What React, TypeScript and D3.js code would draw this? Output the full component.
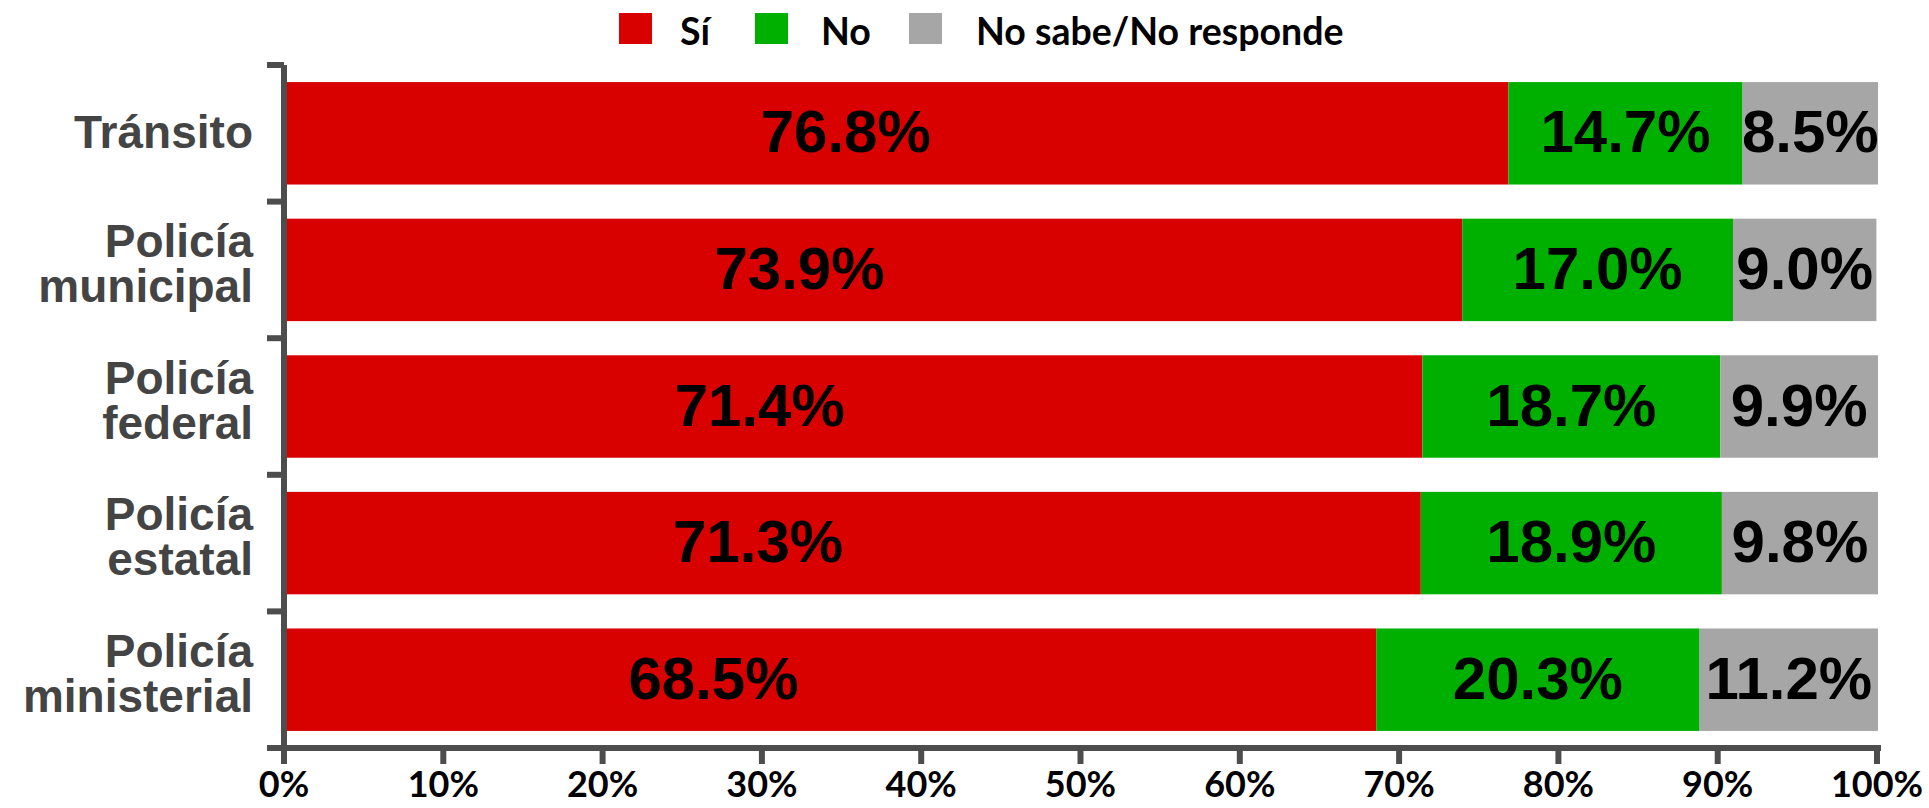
import React from "react";
import * as d3 from "d3";

const categories = ["Tránsito", "Policía municipal", "Policía federal", "Policía estatal", "Policía ministerial"];
const categoryLines = [["Tránsito"], ["Policía", "municipal"], ["Policía", "federal"], ["Policía", "estatal"], ["Policía", "ministerial"]];
const siValues = [76.8, 73.9, 71.4, 71.3, 68.5];
const noValues = [14.7, 17.0, 18.7, 18.9, 20.3];
const nsnrValues = [8.5, 9.0, 9.9, 9.8, 11.2];
const seriesNames = ["Sí", "No", "No sabe/No responde"];
const seriesColors = ["#d90000", "#00b000", "#a6a6a6"];
const xTicks = [0, 10, 20, 30, 40, 50, 60, 70, 80, 90, 100];
// Sí labels are drawn offset left of the segment end (as in the reference)
const siLabelShift = 41.6;

const W = 1929;
const H = 808;
const AXIS = "#4d4d4d";

export default function App() {
  const x = d3.scaleLinear().domain([0, 100]).range([285, 1878]);
  const y = d3.scaleBand<string>().domain(categories).range([65, 748]).paddingInner(0.25).paddingOuter(0.125);
  const step = y.step();
  const y0 = 65;

  const rows = categories.map((c, i) => {
    const vals = [siValues[i], noValues[i], nsnrValues[i]];
    let acc = 0;
    const segs = vals.map((v, k) => {
      const s = { k, x0: acc, x1: acc + v, v };
      acc += v;
      return s;
    });
    return { c, i, segs };
  });

  const legendItems = [
    { sq: 619, tx: 680 },
    { sq: 755, tx: 821 },
    { sq: 909, tx: 976 },
  ];

  return (
    <svg width={W} height={H} style={{ position: "absolute", left: 0, top: 0, background: "#fff" }}>
      {/* legend */}
      {seriesNames.map((n, k) => (
        <g key={n}>
          <rect x={legendItems[k].sq} y={13} width={33} height={31} fill={seriesColors[k]} />
          <text x={legendItems[k].tx} y={45} fontFamily="Lato, 'Open Sans', sans-serif" fontWeight={700} fontSize={37.5} fill="#000">{n}</text>
        </g>
      ))}

      {/* bars */}
      {rows.map((r) => (
        <g key={r.c}>
          {r.segs.map((s) => (
            <rect key={s.k} x={x(s.x0)} y={y(r.c)!} width={x(s.x1) - x(s.x0)} height={y.bandwidth()} fill={seriesColors[s.k]} />
          ))}
          {r.segs.map((s) => {
            const cx = s.k === 0 ? x(s.x1 - siLabelShift) : (x(s.x0) + x(Math.min(s.x1, 100))) / 2;
            return (
              <text key={"t" + s.k} x={cx} y={y(r.c)! + y.bandwidth() / 2 + 19} textAnchor="middle"
                fontFamily="'Liberation Sans', Arial, sans-serif" fontWeight={700} fontSize={60} fill="#000">
                {s.v.toFixed(1) + "%"}
              </text>
            );
          })}
        </g>
      ))}

      {/* y axis */}
      <line x1={x(0) - 1} x2={x(0) - 1} y1={y0} y2={748} stroke={AXIS} strokeWidth={6} />
      {d3.range(categories.length + 1).map((i) => (
        <line key={i} x1={267} x2={x(0) - 1} y1={y0 + i * step} y2={y0 + i * step} stroke={AXIS} strokeWidth={6} />
      ))}
      {categoryLines.map((lines, i) => {
        const cy = y(categories[i])! + y.bandwidth() / 2;
        const bases = lines.length === 1 ? [cy + 15] : [cy - 13, cy + 32];
        return (
          <text key={"yl" + i} textAnchor="end"
            fontFamily="'Liberation Sans', Arial, sans-serif" fontWeight={700} fontSize={46} fill="#444">
            {lines.map((ln, j) => (
              <tspan key={j} x={253} y={bases[j]}>{ln}</tspan>
            ))}
          </text>
        );
      })}

      {/* x axis */}
      <line x1={267} x2={x(100) + 3} y1={748} y2={748} stroke={AXIS} strokeWidth={6} />
      {xTicks.map((t) => (
        <g key={t}>
          <line x1={x(t) - 1} x2={x(t) - 1} y1={748} y2={764} stroke={AXIS} strokeWidth={6} />
          <text x={x(t) - 1} y={797} textAnchor="middle" fontFamily="Lato, 'Open Sans', sans-serif" fontWeight={700} fontSize={36} fill="#000">
            {t + "%"}
          </text>
        </g>
      ))}
    </svg>
  );
}
